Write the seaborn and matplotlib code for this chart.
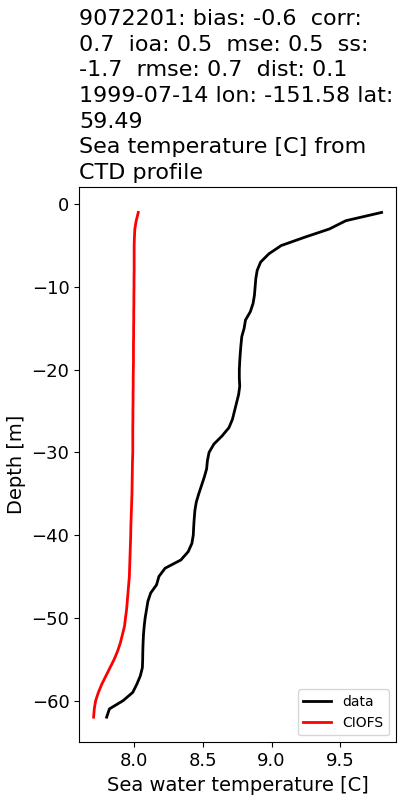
import matplotlib
matplotlib.use("Agg")
import matplotlib.pyplot as plt
import seaborn as sns
import pandas as pd

# depth levels of the CTD cast [m]
depth = [-1, -2, -3, -4, -5, -6, -7, -8, -9, -10,
         -11, -12, -13, -14, -15, -16, -17, -18, -19, -20,
         -21, -22, -23, -24, -25, -26, -27, -28, -29, -30,
         -31, -32, -33, -34, -35, -36, -37, -38, -39, -40,
         -41, -42, -43, -44, -45, -46, -47, -48, -49, -50,
         -51, -52, -53, -54, -55, -56, -57, -58, -59, -60,
         -61, -62]

# observed temperature
temp_data = [9.80, 9.54, 9.42, 9.24, 9.07, 8.98, 8.92, 8.895, 8.885, 8.88,
             8.875, 8.865, 8.845, 8.81, 8.80, 8.783, 8.777, 8.772, 8.768, 8.765,
             8.765, 8.768, 8.76, 8.745, 8.73, 8.715, 8.69, 8.64, 8.58, 8.545,
             8.533, 8.527, 8.51, 8.49, 8.47, 8.452, 8.442, 8.437, 8.433, 8.43,
             8.42, 8.393, 8.34, 8.225, 8.18, 8.163, 8.12, 8.10, 8.09, 8.08,
             8.073, 8.068, 8.065, 8.063, 8.062, 8.06, 8.045, 8.02, 7.99, 7.92,
             7.82, 7.80]

# model (CIOFS) temperature
temp_model = [8.03, 8.015, 8.005, 8.002, 8.0, 8.0, 8.0, 8.0, 7.999, 7.999,
              7.998, 7.998, 7.997, 7.997, 7.996, 7.996, 7.995, 7.995, 7.995, 7.994,
              7.993, 7.993, 7.992, 7.992, 7.991, 7.991, 7.99, 7.99, 7.99, 7.99,
              7.988, 7.987, 7.986, 7.985, 7.984, 7.982, 7.98, 7.978, 7.976, 7.975,
              7.973, 7.971, 7.969, 7.967, 7.965, 7.96, 7.955, 7.95, 7.945, 7.937,
              7.93, 7.915, 7.90, 7.88, 7.855, 7.825, 7.795, 7.765, 7.74, 7.72,
              7.71, 7.705]

title = ("9072201: bias: -0.6  corr:\n0.7  ioa: 0.5  mse: 0.5  ss:\n"
         "-1.7  rmse: 0.7  dist: 0.1\n1999-07-14 lon: -151.58 lat:\n"
         "59.49\nSea temperature [C] from\nCTD profile")

df = pd.DataFrame({"depth": depth, "data": temp_data, "CIOFS": temp_model})

fig = plt.figure(figsize=(4, 8), dpi=100)
ax = fig.add_axes([0.198, 0.072, 0.792, 0.694])

sns.lineplot(data=df, x="data", y="depth", orient="y", sort=False,
             estimator=None, color="black", linewidth=2, label="data", ax=ax)
sns.lineplot(data=df, x="CIOFS", y="depth", orient="y", sort=False,
             estimator=None, color="red", linewidth=2, label="CIOFS", ax=ax)

ax.set_title(title, loc="left", fontsize=16, linespacing=1.35)
ax.set_xlabel("Sea water temperature [C]", fontsize=14)
ax.set_ylabel("Depth [m]", fontsize=14)
ax.tick_params(labelsize=13)
ax.legend(loc="lower right", fontsize=10)

fig.savefig("out.png")
plt.close(fig)
